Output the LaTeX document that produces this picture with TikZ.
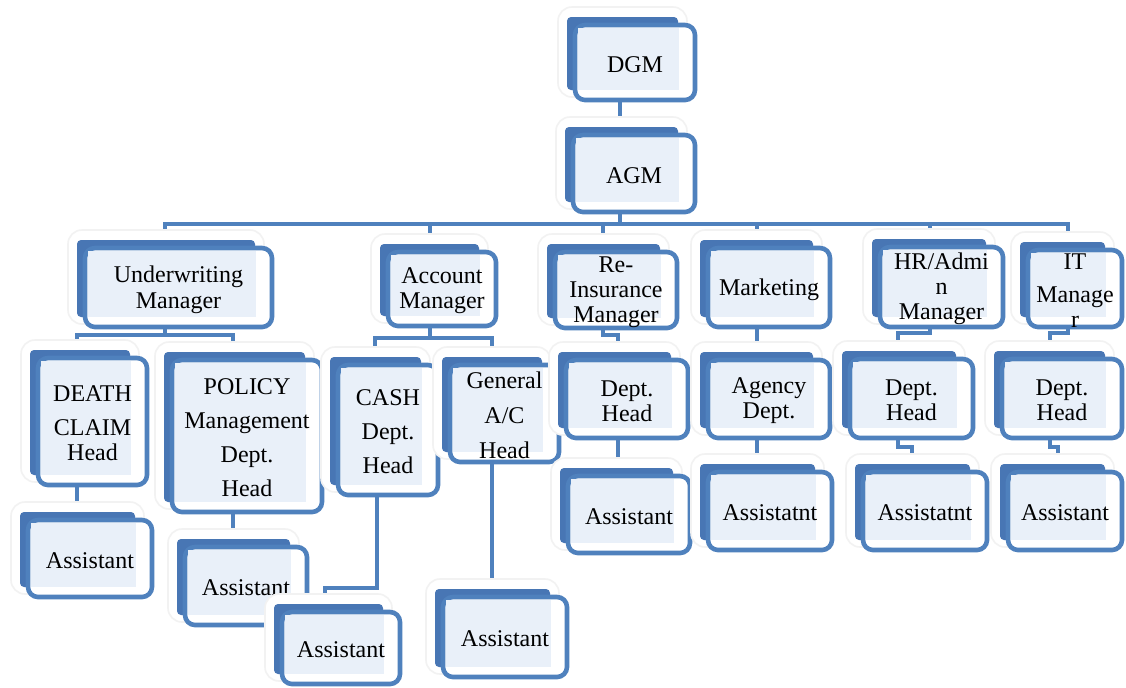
\documentclass[tikz,border=0pt]{standalone}
\usepackage{fontspec}
\setmainfont{Liberation Serif}
\usetikzlibrary{calc}
\definecolor{orgblue}{RGB}{79,129,189}
\definecolor{orgback}{RGB}{72,118,180}
\definecolor{orgtint}{RGB}{233,240,249}
\pgfdeclarelayer{background}
\pgfsetlayers{background,main}

\tikzset{
  glowbox/.style={fill=white, draw=black!5, line width=0.8pt, rounded corners=7pt},
  backbox/.style={fill=orgback, rounded corners=2pt},
  frontbox/.style={draw=orgblue, fill=white, line width=2.3pt, rounded corners=5pt,
                   inner sep=0pt, outer sep=0pt},
  tintbox/.style={fill=orgtint},
  boxtext/.style={align=center, inner sep=0pt, yshift=-1pt,
                  font=\fontsize{12}{12.5}\selectfont},
  conn/.style={draw=orgblue, line width=2pt},
}

% stacked card: name, left, top, right, bottom, text (pixel units, y downwards)
\newcommand\orgbox[6]{%
  \filldraw[glowbox] (#2-17,#3-18) rectangle (#4-8,#5-3);
  \fill[backbox] (#2-8,#3-8) rectangle (#4-17,#5-10);
  \node[frontbox, minimum width={(#4-(#2))*0.5pt}, minimum height={(#5-(#3))*0.5pt}]
    (#1) at ({(#2+#4)/2},{(#3+#5)/2}) {};
  \fill[tintbox] (#2+3,#3+3) rectangle (#4-16,#5-10);
  \node[boxtext] (#1-t) at (#1) {#6};
}

\begin{document}
\begin{tikzpicture}[x=0.5pt,y=-0.5pt]
\useasboundingbox (0,0) rectangle (1126,687);

% top of the chart
\orgbox{dgm}{575}{25}{695}{100}{DGM}
\orgbox{agm}{573}{135}{695}{212}{AGM}

% managers
\orgbox{uw}{85}{248}{272}{327}{Underwriting\\[0.5pt]Manager}
\orgbox{acc}{388}{252}{496}{326}{Account\\Manager}
\orgbox{re}{555}{252}{677}{328}{Re-\\Insurance\\Manager}
\orgbox{mkt}{708}{248}{830}{327}{Marketing}
\orgbox{hr}{880}{247}{1003}{327}{HR/Admi\\n\\Manager}
\orgbox{it}{1028}{250}{1122}{327}{IT\\[4pt]Manage\\r}

% department heads
\orgbox{death}{38}{358}{147}{485}{DEATH\\[4.5pt]CLAIM\\Head}
\orgbox{policy}{172}{360}{322}{512}{POLICY\\[4.5pt]Management\\[4.5pt]Dept.\\[4.5pt]Head}
\orgbox{cash}{338}{365}{438}{495}{CASH\\[4.5pt]Dept.\\[4.5pt]Head}
\orgbox{gen}{450}{365}{559}{462}{General\\[5pt]A/C\\[5pt]Head}
\orgbox{redh}{566}{360}{688}{438}{Dept.\\Head}
\orgbox{agency}{708}{360}{830}{438}{Agency\\Dept.}
\orgbox{hrdh}{850}{359}{973}{438}{Dept.\\Head}
\orgbox{itdh}{1002}{359}{1122}{438}{Dept.\\Head}

% assistants
\orgbox{deathA}{28}{520}{152}{597}{Assistant}
\orgbox{policyA}{185}{547}{307}{625}{Assistant}
\orgbox{cashA}{282}{612}{400}{684}{Assistant}
\orgbox{genA}{443}{597}{567}{677}{Assistant}
\orgbox{reA}{568}{476}{690}{553}{Assistant}
\orgbox{mktA}{708}{472}{832}{550}{Assistatnt}
\orgbox{hrA}{863}{472}{987}{550}{Assistatnt}
\orgbox{itA}{1008}{472}{1122}{550}{Assistant}

\begin{pgfonlayer}{background}
  \fill[white] (0,0) rectangle (1126,687);

  % DGM -> AGM -> managers
  \coordinate (bus) at ($(agm.south)+(-14,12)$);
  \draw[conn] ($(dgm.south)+(-15,0)$) -- ($(agm.north)+(-14,-8)$);
  \draw[conn] ($(agm.south)+(-14,0)$) -- (bus);
  \draw[conn] ($(uw.north)+(-13.5,-8)$) |- (bus) -| ($(it.north)+(-7,-8)$);
  \draw[conn] ($(acc.north)+(-12,-8)$) |- (bus);
  \draw[conn] ($(re.north)+(-13,-8)$) |- (bus);
  \draw[conn] ($(mkt.north)+(-12,-8)$) |- (bus);
  \draw[conn] ($(hr.north)+(-11.5,-8)$) |- (bus);

  % underwriting
  \coordinate (uwbus) at ($(uw.south)+(-13.5,8)$);
  \draw[conn] ($(uw.south)+(-13.5,0)$) -- (uwbus);
  \draw[conn] ($(death.north)+(-15.5,-8)$) |- (uwbus);
  \draw[conn] ($(policy.north)+(-14,-8)$) |- (uwbus);
  \draw[conn] ($(death.south)+(-15.5,0)$) -- ($(deathA.north)+(-13,-8)$);
  \draw[conn] ($(policy.south)+(-14,0)$) -- ($(policyA.north)+(-13,-8)$);

  % accounts
  \coordinate (accbus) at ($(acc.south)+(-12,12)$);
  \draw[conn] ($(acc.south)+(-12,0)$) -- (accbus);
  \draw[conn] ($(cash.north)+(-13,-8)$) |- (accbus);
  \draw[conn] ($(gen.north)+(-12.5,-8)$) |- (accbus);
  \draw[conn] ($(cash.south)+(-11,0)$) |- ($(cashA.north)+(-16,-24)$) -- ($(cashA.north)+(-16,-8)$);
  \draw[conn] ($(gen.south)+(-12.5,0)$) -- ($(genA.north)+(-13,-8)$);

  % re-insurance
  \draw[conn] ($(re.south)+(-13,0)$) -- ++(0,7) -| ($(redh.north)+(-9,-8)$);
  \draw[conn] ($(redh.south)+(-9,0)$) -- ($(reA.north)+(-11,-8)$);

  % marketing
  \draw[conn] ($(mkt.south)+(-12,0)$) -- ($(agency.north)+(-12,-8)$);
  \draw[conn] ($(agency.south)+(-12,0)$) -- ($(mktA.north)+(-13,-8)$);

  % HR / admin
  \draw[conn] ($(hr.south)+(-11.5,0)$) -- ++(0,6) -| ($(hrdh.north)+(-13.5,-8)$);
  \draw[conn] ($(hrdh.south)+(-13.5,0)$) -- ++(0,9) -| ($(hrA.north)+(-13,-8)$);

  % IT
  \draw[conn] ($(it.south)+(-7,0)$) -- ++(0,6) -| ($(itdh.north)+(-12,-8)$);
  \draw[conn] ($(itdh.south)+(-12,0)$) -- ++(0,9) -| ($(itA.north)+(-7,-8)$);
\end{pgfonlayer}
\end{tikzpicture}
\end{document}
